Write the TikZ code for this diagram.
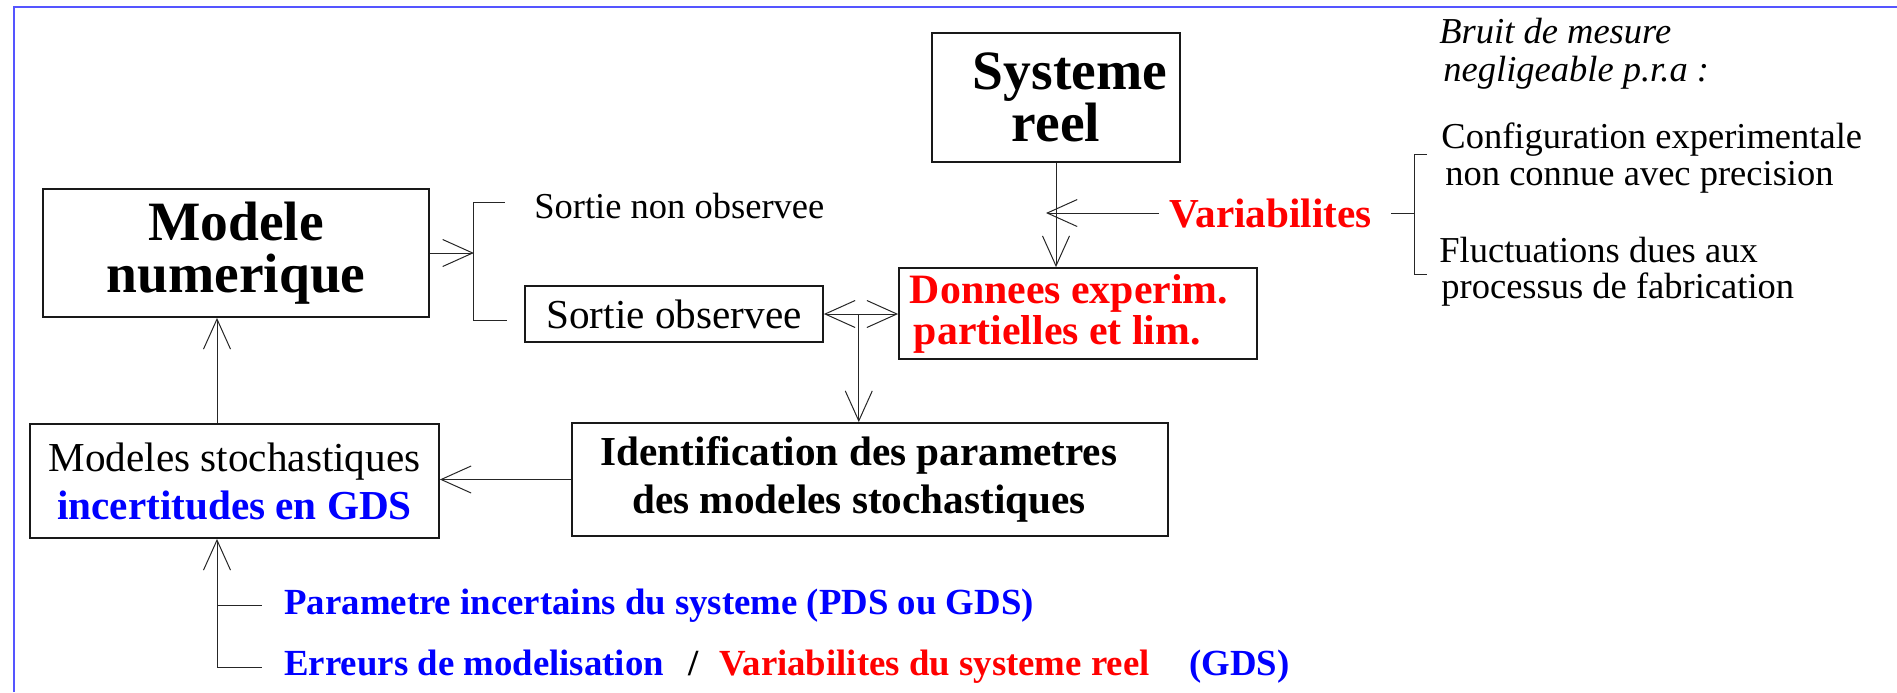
\documentclass[tikz,border=0pt]{standalone}
\usepackage{fontspec}
\setmainfont{Liberation Serif}
\usetikzlibrary{arrows.meta,calc}
\definecolor{myred}{RGB}{255,0,0}
\definecolor{myblue}{RGB}{0,0,255}
\definecolor{frameblue}{RGB}{85,85,255}
\begin{document}
\begin{tikzpicture}[x=0.5pt,y=-0.5pt,
  box/.style={draw=black!90, line width=0.9pt, inner sep=0pt, align=center},
  conn/.style={line width=0.5pt, draw=black!85},
  arr/.style={conn, -{Straight Barb[length=15pt,width=13.5pt]}},
  bigf/.style={font=\fontsize{27.75pt}{26pt}\selectfont\bfseries},
  medf/.style={font=\fontsize{20.6pt}{24pt}\selectfont},
  medbf/.style={font=\fontsize{20.6pt}{24pt}\selectfont\bfseries},
  smf/.style={font=\fontsize{18.25pt}{18.5pt}\selectfont},
  smif/.style={font=\fontsize{18.25pt}{18.5pt}\selectfont\itshape},
  smbf/.style={font=\fontsize{18.4pt}{18.5pt}\selectfont\bfseries},
  lbl/.style={inner sep=0pt, anchor=base west},
]
\useasboundingbox (0,0) rectangle (1897,692);
\draw[frameblue, line width=1pt] (13.5,692) -- (13.5,6.5) -- (1897,6.5);

% boxes
\node[box,bigf,minimum width=193pt,minimum height=64pt] (modele) at (236,253) {Modele\\numerique};
\node[box,bigf,minimum width=124pt,minimum height=64.5pt] (sys) at (1056,97.5) {\hspace*{14pt}Systeme\\reel};
\node[box,medf,minimum width=149pt,minimum height=28pt] (sortobs) at (674,314) {Sortie observee};
\node[box,font=\fontsize{20.9pt}{20.5pt}\selectfont\bfseries,text=myred,align=left,minimum width=179pt,minimum height=45.5pt] (donnees) at (1078,313.5) {Donnees experim.\hspace*{9pt}\\\hspace*{2pt}partielles et lim.};
\node[box,medf,minimum width=204.5pt,minimum height=57pt] (stoch) at (234.5,481) {Modeles stochastiques\\{\bfseries\color{myblue}incertitudes en GDS}};
\node[box,medbf,minimum width=298pt,minimum height=56.5pt] (ident) at (870,479.5) {Identification des parametres\hspace*{11pt}\\des modeles stochastiques\hspace*{11pt}};

% free texts
\node[lbl,smf] (sno) at (534,218) {Sortie non observee};
\node[lbl,medbf,text=myred] (varia) at (1169,227) {Variabilites};
\node[lbl,smif] (bruit1) at (1439,43) {Bruit de mesure};
\node[lbl,smif] (bruit2) at (1443,81) {negligeable p.r.a :};
\node[lbl,smf] (conf1) at (1441,148) {Configuration experimentale};
\node[lbl,smf] (conf2) at (1445,185) {non connue avec precision};
\node[lbl,smf] (fluc1) at (1439,262) {Fluctuations dues aux};
\node[lbl,smf] (fluc2) at (1441,298) {processus de fabrication};
\node[lbl,smbf,text=myblue] (param) at (284,614) {Parametre incertains du systeme (PDS ou GDS)};
\node[lbl,smbf,text=myblue] (err) at (284,675) {Erreurs de modelisation};
\node[lbl,smbf] (slash) at (688,675) {/};
\node[lbl,smbf,text=myred] (varsys) at (719,675) {Variabilites du systeme reel};
\node[lbl,smbf,text=myblue] (gds) at (1189,675) {(GDS)};

% connectors
\coordinate (bl) at ($(modele.east)+(44,0)$);
\draw[arr] (modele.east) -- (bl);
\draw[conn] (bl) ++(31,-51) -- ++(-31,0) -- ++(0,118) -- ++(33,0);

\draw[arr] (sys.south) -- (sys.south |- donnees.north);
\draw[arr] ([xshift=-5pt]varia.west) -- ([xshift=-5pt]varia.west -| sys.south);
\draw[conn] ([xshift=9.5pt]varia.east) -- ++(23,0) coordinate (br);
\draw[conn] (br) ++(13,-59) -- ++(-13,0) -- ++(0,120) -- ++(13,0);

\draw[conn,{Straight Barb[length=15pt,width=13.5pt]}-{Straight Barb[length=15pt,width=13.5pt]}] (sortobs.east) -- (sortobs.east -| donnees.west);
\coordinate (j) at ($(sortobs.east)!0.47!(sortobs.east -| donnees.west)$);
\draw[arr] (j) -- (j |- ident.north);

\draw[arr] (ident.west) -- (ident.west -| stoch.east);
\draw[arr] ([xshift=-8.75pt]stoch.north) -- ([xshift=-8.75pt]stoch.north |- modele.south);

\coordinate (bb) at ([xshift=-8.75pt]stoch.south |- 0,667);
\draw[arr] (bb) -- ([xshift=-8.75pt]stoch.south);
\draw[conn] (bb) -- ++(45,0);
\draw[conn] (bb |- 0,605) -- ++(45,0);
\end{tikzpicture}
\end{document}
